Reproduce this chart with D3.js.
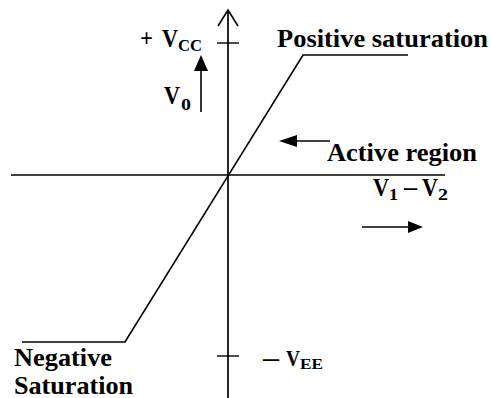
<!DOCTYPE html>
<html>
<head>
<meta charset="utf-8">
<script src="https://cdn.jsdelivr.net/npm/d3@7"></script>
<style>
  html, body { margin: 0; padding: 0; background: #fff; }
  svg { display: block; }
  text { font-family: "Liberation Serif", "Times New Roman", Times, serif; font-weight: 700; fill: #000; }
</style>
</head>
<body>
<svg id="chart" width="491" height="398"></svg>
<script>
// Op-amp transfer characteristic: differential input (V1 - V2) vs output V0
const inputDiff = [-20.6, -10.3, 7.5, 18.0];
const outputV   = [-16.7, -16.7, 12.0, 12.0];

// supply rails marked on the output axis
const railValues = [13.2, -18.1];
const railLabels = [
  { sign: "+", main: "V", sub: "CC" },
  { sign: "\u2013", main: "V", sub: "EE" }
];

const svg = d3.select("#chart");

const x = d3.scaleLinear().domain([-21.7, 21.7]).range([11, 445]);
const y = d3.scaleLinear().domain([-22.3, 16.5]).range([398, 10]);

const stroke = "#000";
const FONT = "Liberation Serif";

// horizontal axis (V1 - V2)
svg.append("line")
  .attr("x1", x(-21.7)).attr("x2", x(21.7))
  .attr("y1", y(0)).attr("y2", y(0))
  .attr("stroke", stroke).attr("stroke-width", 1.7);

// vertical axis (V0) with open arrow tip
svg.append("line")
  .attr("x1", x(0)).attr("x2", x(0))
  .attr("y1", y(-22.3)).attr("y2", y(16.5))
  .attr("stroke", stroke).attr("stroke-width", 1.7);
const tipX = x(0), tipY = y(16.5);
svg.append("path")
  .attr("d", `M${tipX - 10},${tipY + 16} L${tipX},${tipY} L${tipX + 10},${tipY + 16}`)
  .attr("fill", "none").attr("stroke", stroke).attr("stroke-width", 1.6);

// rail tick marks crossing the vertical axis
svg.selectAll("line.rail").data(railValues).join("line")
  .attr("class", "rail")
  .attr("x1", x(0) - 11).attr("x2", x(0) + 11)
  .attr("y1", d => y(d)).attr("y2", d => y(d))
  .attr("stroke", stroke).attr("stroke-width", 1.4);

// transfer curve
const pts = inputDiff.map((d, i) => [d, outputV[i]]);
svg.append("path")
  .datum(pts)
  .attr("d", d3.line().x(d => x(d[0])).y(d => y(d[1])))
  .attr("fill", "none").attr("stroke", stroke).attr("stroke-width", 1.6);

// text helper: fixed-width bold serif text
function label(xp, yp, size, str, width) {
  const t = svg.append("text")
    .attr("x", xp).attr("y", yp)
    .attr("font-family", FONT).attr("font-weight", 700)
    .attr("font-size", size).text(str);
  if (width) t.attr("textLength", width).attr("lengthAdjust", "spacingAndGlyphs");
  return t;
}

// rail labels
label(140, 47, 25, railLabels[0].sign, 13);
label(162, 47, 25, railLabels[0].main, 16);
label(178, 51, 17, railLabels[0].sub, 24);

label(263, 366, 25, railLabels[1].sign, 16);
label(286, 366, 24, railLabels[1].main, 14);
label(300, 369, 15, railLabels[1].sub, 23);

// V0 label and upward arrow
label(164, 104, 25, "V", 16);
label(181, 110, 17, "0", 10);
svg.append("line")
  .attr("x1", x(-2.7)).attr("x2", x(-2.7))
  .attr("y1", y(6.3)).attr("y2", y(10.4))
  .attr("stroke", stroke).attr("stroke-width", 1.6);
svg.append("path")
  .attr("d", `M${x(-2.7) - 7},${y(10.4)} L${x(-2.7) + 7},${y(10.4)} L${x(-2.7)},${y(12.0)} Z`)
  .attr("fill", stroke);

// region labels
label(277, 47, 26, "Positive saturation", 211);
label(327, 161, 26, "Active region", 150);
label(14, 366, 26, "Negative", 98);
label(14, 394, 26, "Saturation", 119);

// V1 - V2 label
label(373, 196, 25, "V", 16);
label(389, 200, 17, "1", 9);
label(404, 195, 25, "\u2013", 13);
label(422, 196, 25, "V", 16);
label(438, 200, 17, "2", 10);

// left-pointing arrow toward the active region
svg.append("line")
  .attr("x1", x(6.9)).attr("x2", x(10.2))
  .attr("y1", y(3.4)).attr("y2", y(3.4))
  .attr("stroke", stroke).attr("stroke-width", 1.6);
svg.append("path")
  .attr("d", `M${x(5.1)},${y(3.4)} L${x(6.9)},${y(3.4) - 6} L${x(6.9)},${y(3.4) + 6} Z`)
  .attr("fill", stroke);

// right-pointing arrow under the input label
svg.append("line")
  .attr("x1", x(13.4)).attr("x2", x(18.0))
  .attr("y1", y(-5.2)).attr("y2", y(-5.2))
  .attr("stroke", stroke).attr("stroke-width", 1.6);
svg.append("path")
  .attr("d", `M${x(19.5)},${y(-5.2)} L${x(18.0)},${y(-5.2) - 6} L${x(18.0)},${y(-5.2) + 6} Z`)
  .attr("fill", stroke);
</script>
</body>
</html>
